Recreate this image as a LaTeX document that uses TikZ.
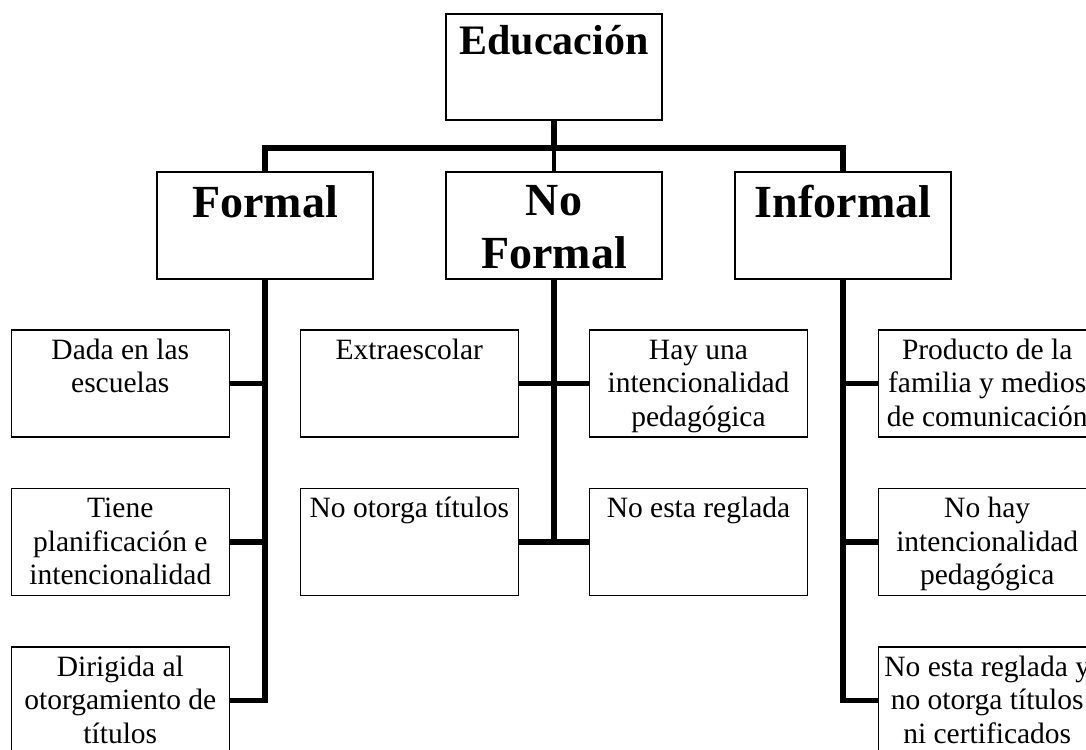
\documentclass[tikz,border=0pt]{standalone}
\usepackage{fontspec}
\setmainfont{Liberation Serif}
\tikzset{
  box/.style={draw=black, line width=1.3pt, rectangle, inner sep=0pt, minimum width=218pt, minimum height=107pt},
  head/.style={draw=black, line width=1.3pt, rectangle, inner sep=0pt, minimum width=216pt, minimum height=107pt},
  conn/.style={draw=black, line width=5.5pt},
}
\newcommand\childtxt[1]{\parbox[c][107pt][t]{218pt}{\fontsize{29.5}{33.5}\selectfont\centering\rule{0pt}{29.4pt}#1\par}}
\newcommand\headtxt[4]{\parbox[c][#1pt][t]{216pt}{\fontsize{#2}{53}\selectfont\bfseries\centering\rule{0pt}{#3pt}#4\par}}
\begin{document}
\begin{tikzpicture}[x={(1pt,0pt)}, y={(0pt,-1pt)}]
\useasboundingbox (0,0) rectangle (1086,749);
\clip (0,0) rectangle (1086,749);
% header boxes
\node[head, minimum height=106pt] (edu) at (554,67) {\headtxt{106}{42}{40.5}{Educación}};
\node[head] (formal) at (265,225.6) {\headtxt{107}{46}{45}{Formal}};
\node[head] (nf) at (554,225.6) {\headtxt{107}{46}{43}{No\\Formal}};
\node[head] (inf) at (843,225.6) {\headtxt{107}{46}{45}{Informal}};
% child boxes
\node[box] (dada) at (120.3,383.5) {\childtxt{Dada en las\\escuelas}};
\node[box] (tiene) at (120.3,542) {\childtxt{Tiene\\planificación e\\intencionalidad}};
\node[box] (dirig) at (120.3,700.5) {\childtxt{Dirigida al\\otorgamiento de\\títulos}};
\node[box] (extra) at (409.3,383.5) {\childtxt{Extraescolar}};
\node[box] (noot) at (409.3,542) {\childtxt{No otorga títulos}};
\node[box] (hay) at (698.5,383.5) {\childtxt{Hay una\\intencionalidad\\pedagógica}};
\node[box] (noest) at (698.5,542) {\childtxt{No esta reglada}};
\node[box] (prod) at (987.2,383.5) {\childtxt{Producto de la\\familia y medios\\de comunicación}};
\node[box] (nohay) at (987.2,542) {\childtxt{No hay\\intencionalidad\\pedagógica}};
\node[box] (noreg) at (987.2,700.5) {\childtxt{No esta reglada y\\no otorga títulos\\ni certificados}};
% connectors
\coordinate (bar) at (554,148);
\draw[conn, line width=6.5pt] (edu.south) -- (bar);
\draw[conn] (formal.north) -- (formal.north |- bar) -- (inf.north |- bar) -- (inf.north);
\draw[conn, line width=3.5pt] (bar) -- (nf.north);
\draw[conn] (formal.south) |- (dirig.east);
\draw[conn] (dada.east) -- (dada.east -| formal.south);
\draw[conn] (tiene.east) -- (tiene.east -| formal.south);
\draw[conn] (nf.south) -- (nf.south |- noot.east);
\draw[conn] (extra.east) -- (hay.west);
\draw[conn] (noot.east) -- (noest.west);
\draw[conn] (inf.south) |- (noreg.west);
\draw[conn] (prod.west) -- (prod.west -| inf.south);
\draw[conn] (nohay.west) -- (nohay.west -| inf.south);
\end{tikzpicture}
\end{document}
